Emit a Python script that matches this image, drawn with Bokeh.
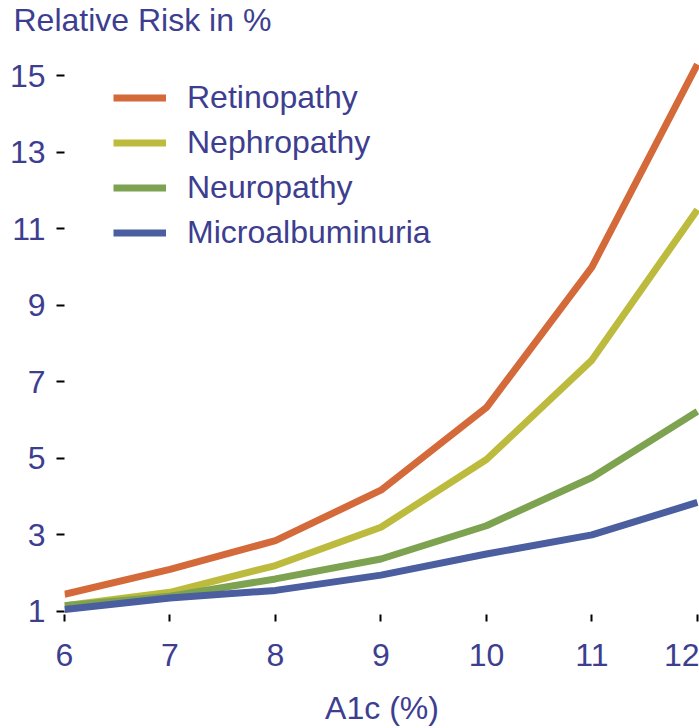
from bokeh.plotting import figure
from bokeh.models import Range1d, Legend, LegendItem, FixedTicker, Title
from bokeh.embed import file_html
from bokeh.resources import INLINE

a1c = [6, 7, 8, 9, 10, 11, 12]
retinopathy = [1.45, 2.1, 2.85, 4.17, 6.33, 10.0, 15.3]
nephropathy = [1.15, 1.5, 2.2, 3.2, 4.97, 7.57, 11.5]
neuropathy = [1.15, 1.4, 1.85, 2.37, 3.24, 4.5, 6.23]
microalbuminuria = [1.05, 1.35, 1.55, 1.95, 2.5, 3.0, 3.85]
y_ticks = [1, 3, 5, 7, 9, 11, 13, 15]
x_ticks = [6, 7, 8, 9, 10, 11, 12]

series = [
    ("Retinopathy", retinopathy, "#d4693a"),
    ("Nephropathy", nephropathy, "#bdbb3e"),
    ("Neuropathy", neuropathy, "#7da250"),
    ("Microalbuminuria", microalbuminuria, "#4a5ea0"),
]

TXT = "#3d3e90"
FONT = "Liberation Sans"
FS = "32px"

p = figure(width=699, height=728, output_backend="svg", toolbar_location=None,
           x_range=Range1d(6, 12.02), y_range=Range1d(0.92, 15.61),
           min_border_left=64, min_border_right=0, min_border_top=52,
           min_border_bottom=106, title="Relative Risk in %")

p.title.text_font = FONT
p.title.text_font_size = FS
p.title.text_font_style = "normal"
p.title.text_color = TXT
p.title.align = "left"
p.title.vertical_align = "top"
p.title.offset = -51
p.title.standoff = 0

# spacer between the title and the plot frame
p.add_layout(Title(text=" ", text_font_size="1px", standoff=10), "above")

items = []
for name, vals, col in series:
    r = p.line(a1c, vals, line_color=col, line_width=7)
    items.append(LegendItem(label=name, renderers=[r]))

leg = Legend(items=items, location=(49, 359), border_line_color=None,
             background_fill_alpha=0, padding=0, margin=0, spacing=0,
             glyph_width=53, glyph_height=45, label_height=45,
             label_standoff=21, label_text_font=FONT, label_text_font_size=FS,
             label_text_color=TXT)
p.add_layout(leg, "center")

p.xgrid.visible = False
p.ygrid.visible = False
p.outline_line_color = None

for ax in (p.xaxis[0], p.yaxis[0]):
    ax.axis_line_color = None
    ax.minor_tick_line_color = None
    ax.major_tick_line_color = "black"
    ax.major_tick_line_width = 2
    ax.major_tick_in = 0
    ax.major_label_text_font = FONT
    ax.major_label_text_font_size = FS
    ax.major_label_text_color = TXT
    ax.axis_label_text_font = FONT
    ax.axis_label_text_font_size = FS
    ax.axis_label_text_font_style = "normal"
    ax.axis_label_text_color = TXT

p.xaxis.ticker = FixedTicker(ticks=x_ticks)
p.yaxis.ticker = FixedTicker(ticks=y_ticks)
p.xaxis.major_tick_out = 7
p.xaxis.major_label_standoff = 22
p.xaxis.axis_label = "A1c (%)"
p.xaxis.axis_label_standoff = 21
p.yaxis.major_tick_out = 8
p.yaxis.major_label_standoff = 11

open("out.html", "w").write(file_html(p, INLINE))
